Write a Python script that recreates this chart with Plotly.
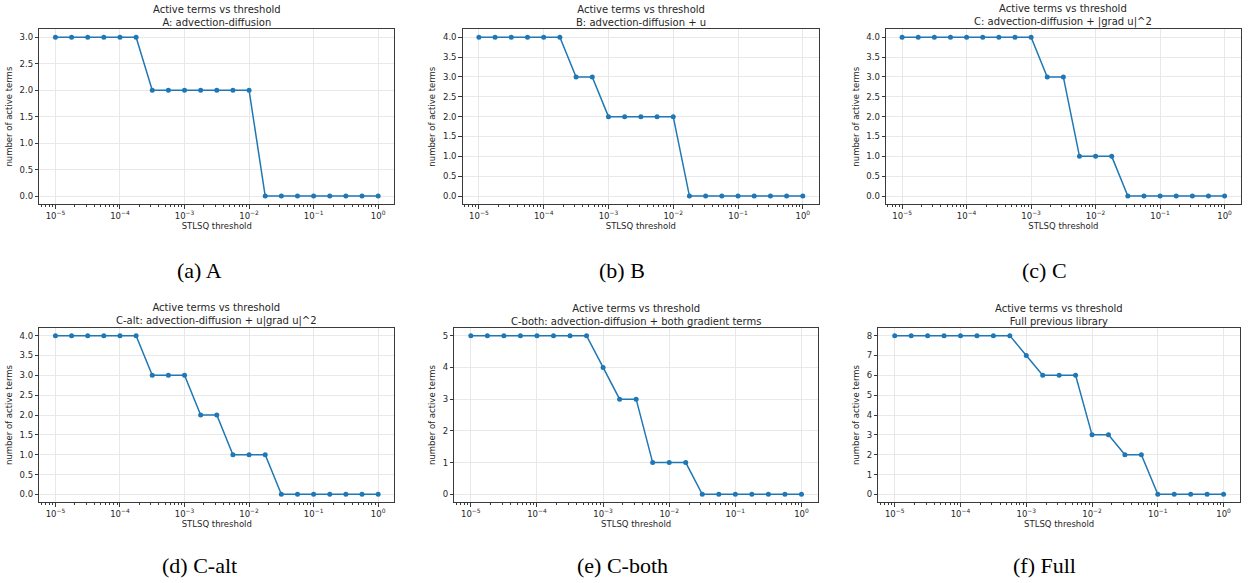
import numpy as np
import plotly.graph_objects as go
from plotly.subplots import make_subplots

# ---------------- data ----------------
thresholds = [1.0e-5, 1.778e-5, 3.162e-5, 5.623e-5,
              1.0e-4, 1.778e-4, 3.162e-4, 5.623e-4,
              1.0e-3, 1.778e-3, 3.162e-3, 5.623e-3,
              1.0e-2, 1.778e-2, 3.162e-2, 5.623e-2,
              1.0e-1, 1.778e-1, 3.162e-1, 5.623e-1,
              1.0]

active_A = [3, 3, 3, 3, 3, 3, 2, 2, 2, 2, 2, 2, 2, 0, 0, 0, 0, 0, 0, 0, 0]
active_B = [4, 4, 4, 4, 4, 4, 3, 3, 2, 2, 2, 2, 2, 0, 0, 0, 0, 0, 0, 0, 0]
active_C = [4, 4, 4, 4, 4, 4, 4, 4, 4, 3, 3, 1, 1, 1, 0, 0, 0, 0, 0, 0, 0]
active_Calt = [4, 4, 4, 4, 4, 4, 3, 3, 3, 2, 2, 1, 1, 1, 0, 0, 0, 0, 0, 0, 0]
active_Cboth = [5, 5, 5, 5, 5, 5, 5, 5, 4, 3, 3, 1, 1, 1, 0, 0, 0, 0, 0, 0, 0]
active_Full = [8, 8, 8, 8, 8, 8, 8, 8, 7, 6, 6, 6, 3, 3, 2, 2, 0, 0, 0, 0, 0]

panel_titles = [
    "Active terms vs threshold<br>A: advection-diffusion",
    "Active terms vs threshold<br>B: advection-diffusion + u",
    "Active terms vs threshold<br>C: advection-diffusion + |grad u|^2",
    "Active terms vs threshold<br>C-alt: advection-diffusion + u|grad u|^2",
    "Active terms vs threshold<br>C-both: advection-diffusion + both gradient terms",
    "Active terms vs threshold<br>Full previous library",
]
captions = ["(a) A", "(b) B", "(c) C", "(d) C-alt", "(e) C-both", "(f) Full"]

x_tick_vals = [1e-5, 1e-4, 1e-3, 1e-2, 1e-1, 1e0]
x_tick_text = ["10<sup>−5</sup>", "10<sup>−4</sup>", "10<sup>−3</sup>",
               "10<sup>−2</sup>", "10<sup>−1</sup>", "10<sup>0</sup>"]

# y tick setups per panel
y_ticks_half3 = [0.0, 0.5, 1.0, 1.5, 2.0, 2.5, 3.0]
y_ticks_half4 = [0.0, 0.5, 1.0, 1.5, 2.0, 2.5, 3.0, 3.5, 4.0]
y_ticks_int5 = [0, 1, 2, 3, 4, 5]
y_ticks_int8 = [0, 1, 2, 3, 4, 5, 6, 7, 8]

series = [active_A, active_B, active_C, active_Calt, active_Cboth, active_Full]
yticks = [y_ticks_half3, y_ticks_half4, y_ticks_half4, y_ticks_half4, y_ticks_int5, y_ticks_int8]
yfmt = [".1f", ".1f", ".1f", ".1f", "d", "d"]

# ---------------- layout geometry ----------------
W, H = 1257, 583
px_x = [(39.3, 394.3), (462.7, 819.0), (886.0, 1240.7),
        (39.3, 394.3), (454.3, 818.0), (878.3, 1240.0)]
px_y = [(29.3, 204.0)] * 3 + [(327.7, 502.3)] * 3
caption_px = [(199, 270), (622, 270), (1044, 270),
              (199, 565), (622, 565), (1044, 565)]

BLUE = "#1f77b4"
TXT = "#262626"
GRID = "#e8e8e8"
FRAME = "#3a3a3a"

minor_vals = [m * 10.0 ** e for e in range(-6, 1) for m in range(2, 10)]
minor_vals = [v for v in minor_vals if 10 ** -5.25 <= v <= 10 ** 0.25]

fig = make_subplots(rows=2, cols=3)

for i in range(6):
    r, c = i // 3 + 1, i % 3 + 1
    fig.add_trace(go.Scatter(
        x=thresholds, y=series[i], mode="lines+markers",
        line=dict(color=BLUE, width=1.5),
        marker=dict(color=BLUE, size=5),
        showlegend=False), row=r, col=c)

    ymax = max(yticks[i])
    pad = ymax * 0.05
    x0, x1 = px_x[i]
    y0, y1 = px_y[i]
    fig.update_xaxes(
        type="log", range=[-5.25, 0.25],
        domain=[x0 / W, x1 / W],
        tickmode="array", tickvals=x_tick_vals, ticktext=x_tick_text,
        ticks="outside", ticklen=3.5, tickwidth=0.8, tickcolor=FRAME,
        showgrid=True, gridcolor=GRID, gridwidth=0.8,
        showline=True, linecolor=FRAME, linewidth=1, mirror=True,
        zeroline=False,
        minor=dict(tickmode="array", tickvals=minor_vals, ticks="outside",
                   ticklen=2, tickwidth=0.6, tickcolor=FRAME, showgrid=False),
        tickfont=dict(family="DejaVu Sans", size=8.5, color=TXT),
        title=dict(text="STLSQ threshold", standoff=2,
                   font=dict(family="DejaVu Sans", size=8.5, color=TXT)),
        row=r, col=c)
    fig.update_yaxes(
        range=[-pad, ymax + pad],
        domain=[1 - y1 / H, 1 - y0 / H],
        tickmode="array", tickvals=yticks[i], tickformat=yfmt[i],
        ticks="outside", ticklen=3.5, tickwidth=0.8, tickcolor=FRAME,
        showgrid=True, gridcolor=GRID, gridwidth=0.8,
        showline=True, linecolor=FRAME, linewidth=1, mirror=True,
        zeroline=False,
        tickfont=dict(family="DejaVu Sans", size=8.5, color=TXT),
        title=dict(text="number of active terms", standoff=5,
                   font=dict(family="DejaVu Sans", size=8.5, color=TXT)),
        row=r, col=c)

    fig.add_annotation(
        x=(x0 + x1) / 2 / W, y=1 - y0 / H, xref="paper", yref="paper",
        xanchor="center", yanchor="bottom", yshift=-1, showarrow=False,
        text=panel_titles[i],
        font=dict(family="DejaVu Sans", size=10, color=TXT))

    cx, cy = caption_px[i]
    fig.add_annotation(
        x=cx / W, y=1 - cy / H, xref="paper", yref="paper",
        xanchor="center", yanchor="middle", showarrow=False,
        text=captions[i],
        font=dict(family="Liberation Serif", size=22, color="#000000"))

fig.update_layout(
    width=W, height=H,
    margin=dict(l=0, r=0, t=0, b=0),
    paper_bgcolor="white", plot_bgcolor="white",
    showlegend=False,
)

fig.write_html("out.html")
